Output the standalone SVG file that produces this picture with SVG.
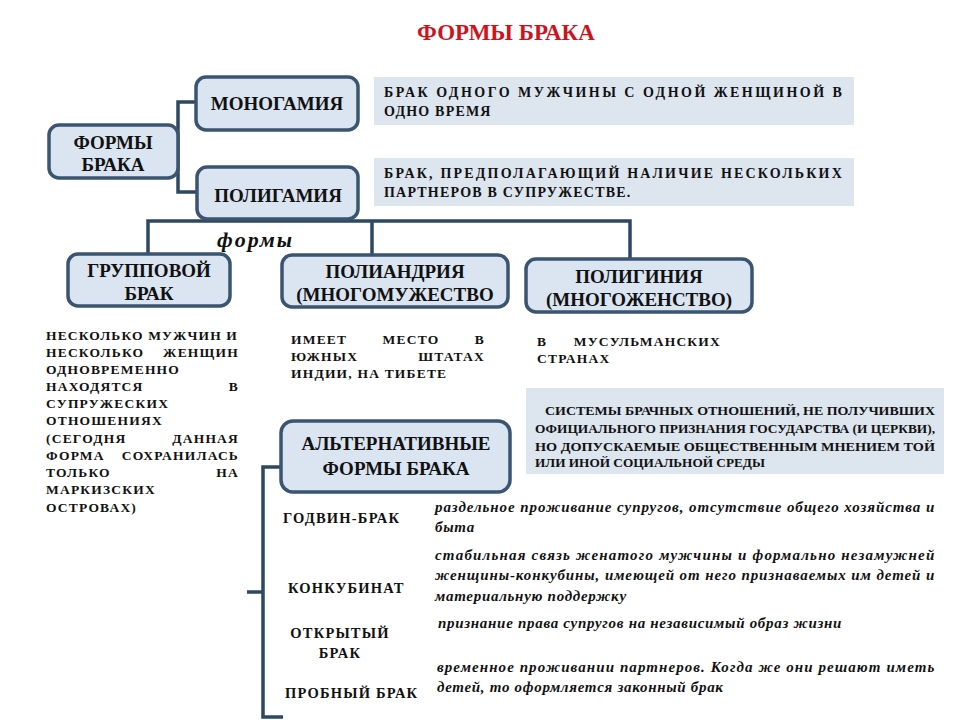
<svg xmlns="http://www.w3.org/2000/svg" width="960" height="720" viewBox="0 0 960 720" font-family="'Liberation Serif', 'DejaVu Serif', 'Times New Roman', serif">
<style>
.box{fill:#dbe5f1;stroke:#3a5472;stroke-width:3.5}
.desc{fill:#dde5ef}
.con{fill:none;stroke:#2e4864;stroke-width:3.5;stroke-linejoin:miter}
text{font-family:'Liberation Serif','DejaVu Serif','Times New Roman',serif;font-weight:bold;fill:#111}
.bt{font-size:19px;text-anchor:middle}
.s{font-size:13.5px;letter-spacing:1.2px}
.d{font-size:14px;letter-spacing:1.2px}
.c{font-size:13.5px}
.l{font-size:14.5px;letter-spacing:1.2px}
.i{font-size:15px;font-style:italic;letter-spacing:0.7px}
.e{text-anchor:end}
.m{text-anchor:middle}
</style>
<rect width="960" height="720" fill="#fff"/>
<text x="506" y="40" font-size="23" style="fill:#d0121c" text-anchor="middle">ФОРМЫ БРАКА</text>

<g id="connectors">
<path class="con" d="M200,102 H178 V192 H200"/>
<path class="con" d="M148,255 V221 H630 V260 M372,221 V256"/>
<path class="con" d="M283,467 H263 V717 H283 M263,592 H247"/>
</g>

<g id="forms"><rect class="box" x="49" y="125" width="129" height="53" rx="10"/>
<text class="bt" x="113" y="149">ФОРМЫ</text><text class="bt" x="113" y="171">БРАКА</text></g>
<g id="monogamy"><rect class="box" x="196" y="77" width="162" height="53" rx="10"/>
<text class="bt" x="277" y="110">МОНОГАМИЯ</text></g>
<g id="polygamy"><rect class="box" x="197" y="167" width="161" height="52" rx="10"/>
<text class="bt" x="278" y="202">ПОЛИГАМИЯ</text></g>
<g id="group"><rect class="box" x="68" y="254" width="162" height="52" rx="10"/>
<text class="bt" x="149" y="277">ГРУППОВОЙ</text><text class="bt" x="149" y="300">БРАК</text></g>
<g id="polyandry"><rect class="box" x="282" y="255" width="226" height="52" rx="10"/>
<text class="bt" x="395" y="278">ПОЛИАНДРИЯ</text><text class="bt" x="395" y="301">(МНОГОМУЖЕСТВО</text></g>
<g id="polygyny"><rect class="box" x="526" y="259" width="226" height="53" rx="10"/>
<text class="bt" x="639" y="283">ПОЛИГИНИЯ</text><text class="bt" x="639" y="306">(МНОГОЖЕНСТВО)</text></g>
<g id="alternative"><rect class="box" x="281" y="421" width="229" height="71" rx="12"/>
<text class="bt" x="396" y="450">АЛЬТЕРНАТИВНЫЕ</text><text class="bt" x="396" y="475">ФОРМЫ БРАКА</text></g>

<text x="217" y="247" font-size="22" font-style="italic" letter-spacing="2">формы</text>

<g id="mono-desc"><rect class="desc" x="374" y="77" width="480" height="48"/>
<text class="d" x="384" y="97" textLength="459" lengthAdjust="spacing">БРАК ОДНОГО МУЖЧИНЫ С ОДНОЙ ЖЕНЩИНОЙ В</text>
<text class="d" x="384" y="116">ОДНО ВРЕМЯ</text></g>
<g id="poly-desc"><rect class="desc" x="374" y="158" width="480" height="48"/>
<text class="d" x="384" y="178" textLength="459" lengthAdjust="spacing">БРАК, ПРЕДПОЛАГАЮЩИЙ НАЛИЧИЕ НЕСКОЛЬКИХ</text>
<text class="d" x="384" y="197" letter-spacing="0.6">ПАРТНЕРОВ В СУПРУЖЕСТВЕ.</text></g>

<g id="group-desc" class="s">
<text x="46" y="340" textLength="192" lengthAdjust="spacing">НЕСКОЛЬКО МУЖЧИН И</text>
<text x="46" y="357">НЕСКОЛЬКО</text><text class="e" x="239" y="357">ЖЕНЩИН</text>
<text x="46" y="374">ОДНОВРЕМЕННО</text>
<text x="46" y="391">НАХОДЯТСЯ</text><text class="e" x="239" y="391">В</text>
<text x="46" y="408">СУПРУЖЕСКИХ</text>
<text x="46" y="425">ОТНОШЕНИЯХ</text>
<text x="46" y="443">(СЕГОДНЯ</text><text class="e" x="239" y="443">ДАННАЯ</text>
<text x="46" y="460">ФОРМА</text><text class="e" x="239" y="460">СОХРАНИЛАСЬ</text>
<text x="46" y="477">ТОЛЬКО</text><text class="e" x="239" y="477">НА</text>
<text x="46" y="494">МАРКИЗСКИХ</text>
<text x="46" y="512">ОСТРОВАХ)</text>
</g>

<g id="polyandry-desc" class="s">
<text x="291" y="344">ИМЕЕТ</text><text class="m" x="411" y="344">МЕСТО</text><text class="e" x="485" y="344">В</text>
<text x="291" y="361">ЮЖНЫХ</text><text class="e" x="485" y="361">ШТАТАХ</text>
<text x="291" y="378">ИНДИИ, НА ТИБЕТЕ</text>
</g>
<g id="polygyny-desc" class="s">
<text x="537" y="346">В</text><text class="e" x="721" y="346">МУСУЛЬМАНСКИХ</text>
<text x="537" y="363">СТРАНАХ</text>
</g>

<g id="alt-desc"><rect class="desc" x="526" y="388" width="418" height="86"/>
<text class="c" x="545" y="415" textLength="390" lengthAdjust="spacingAndGlyphs">СИСТЕМЫ БРАЧНЫХ ОТНОШЕНИЙ, НЕ ПОЛУЧИВШИХ</text>
<text class="c" x="535" y="433" textLength="400" lengthAdjust="spacingAndGlyphs">ОФИЦИАЛЬНОГО ПРИЗНАНИЯ ГОСУДАРСТВА (И ЦЕРКВИ),</text>
<text class="c" x="535" y="451" textLength="400" lengthAdjust="spacingAndGlyphs">НО ДОПУСКАЕМЫЕ ОБЩЕСТВЕННЫМ МНЕНИЕМ ТОЙ</text>
<text class="c" x="535" y="467" textLength="230" lengthAdjust="spacingAndGlyphs">ИЛИ ИНОЙ СОЦИАЛЬНОЙ СРЕДЫ</text>
</g>

<g id="godwin"><text class="l" x="283" y="523">ГОДВИН-БРАК</text>
<text class="i" x="435" y="512" textLength="500" lengthAdjust="spacing">раздельное проживание супругов, отсутствие общего хозяйства и</text>
<text class="i" x="435" y="532">быта</text></g>
<g id="concubinage"><text class="l" x="288" y="593">КОНКУБИНАТ</text>
<text class="i" x="435" y="560" textLength="500" lengthAdjust="spacing">стабильная связь женатого мужчины и формально незамужней</text>
<text class="i" x="435" y="580" textLength="500" lengthAdjust="spacing">женщины-конкубины, имеющей от него признаваемых им детей и</text>
<text class="i" x="435" y="601">материальную поддержку</text></g>
<g id="open"><text class="l" x="340" y="638" text-anchor="middle">ОТКРЫТЫЙ</text><text class="l" x="340" y="658" text-anchor="middle">БРАК</text>
<text class="i" x="438" y="628">признание права супругов на независимый образ жизни</text></g>
<g id="trial"><text class="l" x="285" y="698">ПРОБНЫЙ БРАК</text>
<text class="i" x="437" y="672" textLength="498" lengthAdjust="spacing">временное проживании партнеров. Когда же они решают иметь</text>
<text class="i" x="437" y="692">детей, то оформляется законный брак</text></g>
</svg>
